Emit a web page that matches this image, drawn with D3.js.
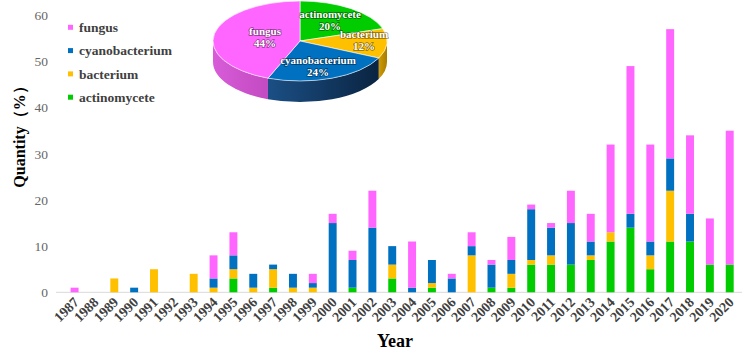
<!DOCTYPE html>
<html>
<head>
<meta charset="utf-8">
<script src="https://cdn.jsdelivr.net/npm/d3@7"></script>
<style>
  body { margin: 0; background: #fff; }
  svg { display: block; font-family: "Liberation Serif", "Times New Roman", serif; }
</style>
</head>
<body>
<svg class="drawSpace" width="749" height="353"></svg>
<script>
// data
const years = ['1987','1988','1989','1990','1991','1992','1993','1994','1995','1996','1997','1998','1999','2000','2001','2002','2003','2004','2005','2006','2007','2008','2009','2010','2011','2012','2013','2014','2015','2016','2017','2018','2019','2020'];
const actinomycete   = [0,0,0,0,0,0,0,0,3,0,1,0,0,0,1,0,3,0,1,0,0,1,1,6,6,6,7,11,14,5,11,11,6,6];
const bacterium      = [0,0,3,0,5,0,4,1,2,1,4,1,1,0,0,0,3,0,1,0,8,0,3,1,2,0,1,2,0,3,11,0,0,0];
const cyanobacterium = [0,0,0,1,0,0,0,2,3,3,1,3,1,15,6,14,4,1,5,3,2,5,3,11,6,9,3,0,3,3,7,6,0,0];
const fungus         = [1,0,0,0,0,0,0,5,5,0,0,0,2,2,2,8,0,10,0,1,3,1,5,1,1,7,6,19,32,21,28,17,10,29];
const yTicks = [0,10,20,30,40,50,60];

const pieNames = ['actinomycete','bacterium','cyanobacterium','fungus'];
const piePct   = [20,12,24,44];

const legendNames = ['fungus','cyanobacterium','bacterium','actinomycete'];

const colors = {
  actinomycete: '#00cc00',
  bacterium: '#ffc000',
  cyanobacterium: '#0070c0',
  fungus: '#ff66ff'
};
const sideColors = {
  actinomycete: ['#00a000', '#007a00'],
  bacterium: ['#d09a00', '#a87c00'],
  cyanobacterium: ['#1b4f85', '#0a2441'],
  fungus: ['#d85cd8', '#c24ac2']
};

const svg = d3.select('.drawSpace');

const rows = years.map((y, i) => ({
  year: y,
  actinomycete: actinomycete[i],
  bacterium: bacterium[i],
  cyanobacterium: cyanobacterium[i],
  fungus: fungus[i]
}));

const x = d3.scaleBand().domain(years).range([58.7, 745.6]).padding(0.6);
const y = d3.scaleLinear().domain([0, 60]).range([292.3, 15.3]);

const stack = d3.stack().keys(['actinomycete','bacterium','cyanobacterium','fungus']);

// baseline
svg.append('line')
  .attr('x1', 56).attr('x2', 742)
  .attr('y1', y(0)).attr('y2', y(0))
  .attr('stroke', '#d9d9d9').attr('stroke-width', 1);

// y tick labels
svg.selectAll('.ytick')
  .data(yTicks)
  .enter()
  .append('text')
  .attr('class', 'ytick')
  .attr('x', 48)
  .attr('y', (d) => y(d))
  .attr('dy', '0.35em')
  .attr('text-anchor', 'end')
  .attr('font-size', 13.5)
  .attr('fill', '#666666')
  .text((d) => d);

// bars
svg.selectAll('.layer')
  .data(stack(rows))
  .enter()
  .append('g')
  .attr('class', 'layer')
  .attr('fill', (d) => colors[d.key])
  .selectAll('rect')
  .data((d) => d.filter((p) => p[1] > p[0]))
  .enter()
  .append('rect')
  .attr('x', (d) => x(d.data.year))
  .attr('width', x.bandwidth())
  .attr('y', (d) => y(d[1]))
  .attr('height', (d) => y(d[0]) - y(d[1]));

// x tick labels
svg.selectAll('.xtick')
  .data(years)
  .enter()
  .append('text')
  .attr('class', 'xtick')
  .attr('text-anchor', 'end')
  .attr('font-size', 14)
  .attr('font-weight', 'bold')
  .attr('fill', '#404040')
  .attr('transform', (d) => 'translate(' + (x(d) + x.bandwidth() / 2 + 5) + ',' + 303 + ') rotate(-45)')
  .text((d) => d);

// axis titles
svg.append('text')
  .attr('x', 395).attr('y', 347)
  .attr('text-anchor', 'middle')
  .attr('font-size', 18)
  .attr('font-weight', 'bold')
  .attr('fill', '#000')
  .text('Year');

svg.append('text')
  .attr('transform', 'translate(25,133) rotate(-90)')
  .attr('text-anchor', 'middle')
  .attr('font-size', 16)
  .attr('font-weight', 'bold')
  .attr('fill', '#000')
  .text('Quantity（%）');

// legend
const legend = svg.selectAll('.legend')
  .data(legendNames)
  .enter()
  .append('g')
  .attr('class', 'legend')
  .attr('transform', (d, i) => 'translate(68,' + (27.3 + i * 23.3) + ')');
legend.append('rect')
  .attr('x', 0).attr('y', -2.5)
  .attr('width', 5).attr('height', 5)
  .attr('fill', (d) => colors[d]);
legend.append('text')
  .attr('x', 11).attr('y', 0)
  .attr('dy', '0.35em')
  .attr('font-size', 13.5)
  .attr('font-weight', 'bold')
  .attr('fill', '#404040')
  .text((d) => d);

// 3D pie
const cx = 300, cy = 41, rx = 87, ry = 40, depth = 21;
const pt = (a, dy) => [cx + rx * Math.sin(a), cy - ry * Math.cos(a) + (dy || 0)];

const pie = d3.pie().sort(null).value((d) => d.value);
const slices = pie(pieNames.map((n, i) => ({ name: n, value: piePct[i] })));

const defs = svg.append('defs');
pieNames.forEach((n) => {
  const g = defs.append('linearGradient')
    .attr('id', 'side-' + n)
    .attr('x1', '0%').attr('x2', '100%').attr('y1', '0%').attr('y2', '0%');
  g.append('stop').attr('offset', '0%').attr('stop-color', sideColors[n][0]);
  g.append('stop').attr('offset', '100%').attr('stop-color', sideColors[n][1]);
});

const sidePath = (d) => {
  const s = Math.max(d.startAngle, Math.PI / 2);
  const e = Math.min(d.endAngle, 3 * Math.PI / 2);
  if (s >= e) return null;
  const large = e - s > Math.PI ? 1 : 0;
  const p0 = pt(s), p1 = pt(e), p2 = pt(e, depth), p3 = pt(s, depth);
  return 'M' + p0 + 'A' + rx + ',' + ry + ' 0 ' + large + ' 1 ' + p1 +
    'L' + p2 + 'A' + rx + ',' + ry + ' 0 ' + large + ' 0 ' + p3 + 'Z';
};
const topPath = (d) => {
  const large = d.endAngle - d.startAngle > Math.PI ? 1 : 0;
  return 'M' + cx + ',' + cy + 'L' + pt(d.startAngle) +
    'A' + rx + ',' + ry + ' 0 ' + large + ' 1 ' + pt(d.endAngle) + 'Z';
};

const pieG = svg.append('g');
pieG.selectAll('.side')
  .data(slices.filter((d) => sidePath(d)))
  .enter()
  .append('path')
  .attr('class', 'side')
  .attr('d', sidePath)
  .attr('fill', (d) => 'url(#side-' + d.data.name + ')');
pieG.selectAll('.top')
  .data(slices)
  .enter()
  .append('path')
  .attr('class', 'top')
  .attr('d', topPath)
  .attr('fill', (d) => colors[d.data.name])
  .attr('stroke', '#ffffff')
  .attr('stroke-width', 0.6);

// pie labels
const labelPos = {
  actinomycete: [330, 14],
  bacterium: [364, 34],
  cyanobacterium: [318, 60],
  fungus: [265, 31]
};
const pieLabels = pieG.selectAll('.plabel')
  .data(slices)
  .enter()
  .append('text')
  .attr('class', 'plabel')
  .attr('text-anchor', 'middle')
  .attr('font-size', 11)
  .attr('font-weight', 'bold')
  .attr('fill', '#ffffff')
  .attr('stroke', 'rgba(0,0,0,0.45)')
  .attr('stroke-width', 1.5)
  .attr('paint-order', 'stroke')
  .attr('transform', (d) => 'translate(' + labelPos[d.data.name] + ')');
pieLabels.append('tspan')
  .attr('x', 0).attr('y', 0).attr('dy', '0.35em')
  .text((d) => d.data.name);
pieLabels.append('tspan')
  .attr('x', 0).attr('y', 12.5).attr('dy', '0.35em')
  .text((d) => d.data.value + '%');
</script>
</body>
</html>
